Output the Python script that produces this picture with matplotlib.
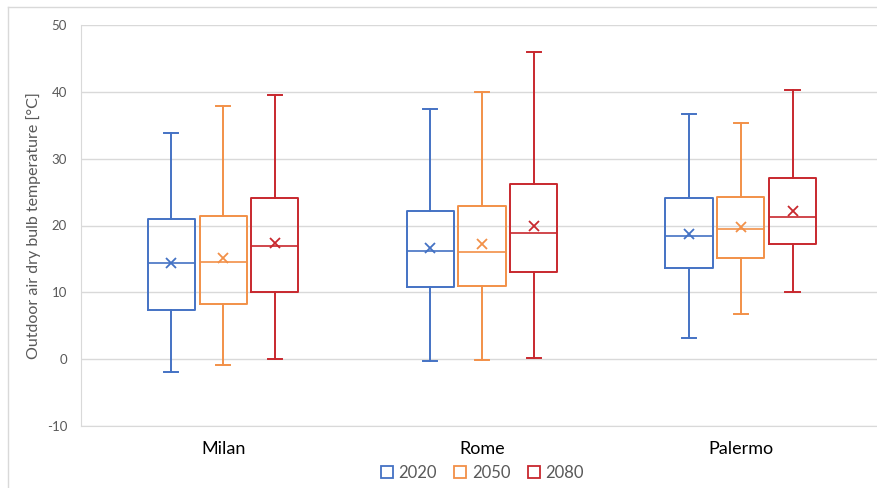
import matplotlib
matplotlib.use("Agg")
import matplotlib.pyplot as plt
from matplotlib.lines import Line2D

plt.rcParams['font.family'] = ['Lato', 'DejaVu Sans']
plt.rcParams['axes.unicode_minus'] = False

# cities and scenario years
cities = ["Milan", "Rome", "Palermo"]
years = ["2020", "2050", "2080"]

# box statistics, one list per year (Milan, Rome, Palermo)
whislo = {"2020": [-1.9, -0.2, 3.1], "2050": [-0.8, -0.1, 6.8], "2080": [0.0, 0.2, 10.1]}
q1 = {"2020": [7.3, 10.8, 13.6], "2050": [8.3, 11.0, 15.1], "2080": [10.0, 13.0, 17.2]}
med = {"2020": [14.4, 16.2, 18.4], "2050": [14.6, 16.0, 19.5], "2080": [17.0, 18.9, 21.3]}
mean = {"2020": [14.4, 16.7, 18.8], "2050": [15.2, 17.2, 19.8], "2080": [17.4, 20.0, 22.2]}
q3 = {"2020": [21.0, 22.2, 24.1], "2050": [21.4, 22.9, 24.3], "2080": [24.1, 26.2, 27.1]}
whishi = {"2020": [33.8, 37.4, 36.7], "2050": [37.9, 40.0, 35.4], "2080": [39.5, 46.0, 40.2]}

colors = {"2020": "#4472C4", "2050": "#F29048", "2080": "#C8282E"}
offsets = {"2020": -0.2, "2050": 0.0, "2080": 0.2}

W, H = 877, 488
fig = plt.figure(figsize=(W / 100, H / 100), dpi=100)
ax = fig.add_axes([81 / W, 1 - 426 / H, (W - 81) / W + 0.01, (426 - 25) / H])

for y in years:
    stats = []
    for i in range(len(cities)):
        stats.append(dict(whislo=whislo[y][i], q1=q1[y][i], med=med[y][i],
                          mean=mean[y][i], q3=q3[y][i], whishi=whishi[y][i], fliers=[]))
    c = colors[y]
    pos = [i + offsets[y] for i in range(len(cities))]
    ax.bxp(stats, positions=pos, widths=0.182, showmeans=True, showfliers=False,
           manage_ticks=False,
           boxprops=dict(color=c, linewidth=1.4),
           whiskerprops=dict(color=c, linewidth=1.4),
           capprops=dict(color=c, linewidth=1.4),
           medianprops=dict(color=c, linewidth=1.2),
           meanprops=dict(marker='x', markeredgecolor=c, markersize=7.5, markeredgewidth=1.3),
           capwidths=0.055)

ax.set_xlim(-0.549, 2.56)
ax.set_ylim(-10, 50)
ax.set_yticks(range(-10, 51, 10))
ax.set_xticks(range(len(cities)))
ax.set_xticklabels(cities, fontsize=13, color="black")
ax.tick_params(axis='x', length=0, pad=11)
ax.tick_params(axis='y', length=0, pad=10, labelsize=9.5, labelcolor="#595959")
ax.grid(axis='y', color="#D9D9D9", linewidth=1)
ax.set_axisbelow(True)
for s in ["top", "right"]:
    ax.spines[s].set_visible(False)
for s in ["left", "bottom"]:
    ax.spines[s].set_color("#D9D9D9")
ax.set_ylabel("Outdoor air dry bulb temperature [°C]", fontsize=11.5, color="#595959", labelpad=4)

handles = [Line2D([], [], marker='s', linestyle='none', markerfacecolor='none',
                  markeredgecolor=colors[y], markersize=9, markeredgewidth=1.3) for y in years]
fig.legend(handles, years, loc='center', bbox_to_anchor=(481 / W, 1 - 473 / H), ncol=3,
           frameon=False, fontsize=12, labelcolor="#595959", handletextpad=0.2,
           columnspacing=0.9, handlelength=1.0)

# chart area border
fig.add_artist(Line2D([8 / W, 8 / W], [0, 1 - 7 / H], color="#D9D9D9", linewidth=1))
fig.add_artist(Line2D([8 / W, 1], [1 - 7 / H, 1 - 7 / H], color="#D9D9D9", linewidth=1))

fig.savefig("out.png", dpi=100, facecolor="white")
